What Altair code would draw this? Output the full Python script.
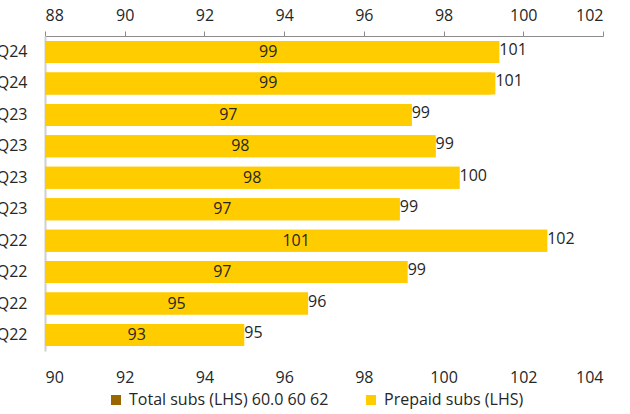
import altair as alt
import pandas as pd

quarters = ["2Q24", "1Q24", "4Q23", "3Q23", "2Q23", "1Q23", "4Q22", "3Q22", "2Q22", "1Q22"]
total_subs = [99.2, 99.2, 97.2, 97.8, 98.4, 96.9, 100.6, 96.9, 94.6, 92.6]
total_labels = ["99", "99", "97", "98", "98", "97", "101", "97", "95", "93"]
prepaid_subs = [101.4, 101.3, 99.2, 99.8, 100.4, 98.9, 102.6, 99.1, 96.6, 95.0]
prepaid_labels = ["101", "101", "99", "99", "100", "99", "102", "99", "96", "95"]
series_names = ["Total subs (LHS) 60.0 60 62", "Prepaid subs (LHS)"]
top_domain = [88, 102]
bottom_domain = [90, 104]
top_ticks = [88, 90, 92, 94, 96, 98, 100, 102]
bottom_ticks = [90, 92, 94, 96, 98, 100, 102, 104]

YELLOW = "#FFCC00"
BROWN = "#996600"
TEXT = "#262626"
FONT = "Open Sans"

df = pd.DataFrame({
    "quarter": quarters,
    "total": total_subs,
    "total_label": total_labels,
    "prepaid": prepaid_subs,
    "prepaid_label": prepaid_labels,
})

base = alt.Chart(df)

y_scale = alt.Scale(paddingInner=0.3, paddingOuter=0.16)
y_axis = alt.Axis(
    title=None, orient="left", ticks=False, tickSize=0, labelPadding=18, domainColor="#d0d0d0",
    domainWidth=2, labelFontSize=16, labelColor=TEXT, labelFont=FONT, labelAlign="right",
)
y_enc = alt.Y("quarter:N", sort=quarters, scale=y_scale, axis=y_axis)

prepaid_scale = alt.Scale(domain=bottom_domain, nice=False, zero=False)
total_scale = alt.Scale(domain=top_domain, nice=False, zero=False)

prepaid_bar = base.mark_bar(color=YELLOW).encode(
    x=alt.X("prepaid:Q", scale=prepaid_scale,
            axis=alt.Axis(orient="bottom", title=None, values=bottom_ticks, domain=False,
                          ticks=False, tickSize=0, labelPadding=18, grid=False,
                          labelFontSize=16, labelColor=TEXT, labelFont=FONT)),
    x2=alt.datum(bottom_domain[0]),
    y=y_enc,
)
prepaid_text = base.mark_text(align="left", baseline="middle", dy=-2, fontSize=16, color=TEXT, font=FONT).encode(
    x=alt.X("prepaid:Q", scale=prepaid_scale, axis=None),
    y=y_enc,
    text="prepaid_label:N",
)

total_bar = base.mark_bar(color=YELLOW).encode(
    x=alt.X("total:Q", scale=total_scale,
            axis=alt.Axis(orient="top", title=None, values=top_ticks, domainColor="#8c8c8c",
                          tickColor="#8c8c8c", tickSize=5, labelPadding=8, grid=False,
                          labelFontSize=16, labelColor=TEXT, labelFont=FONT)),
    x2=alt.datum(top_domain[0]),
    y=y_enc,
)
total_text = base.transform_calculate(mid="(88 + datum.total) / 2").mark_text(
    align="center", baseline="middle", fontSize=16, color=TEXT, font=FONT
).encode(
    x=alt.X("mid:Q", scale=total_scale, axis=None),
    y=y_enc,
    text="total_label:N",
)

legend_layer = alt.Chart(pd.DataFrame({"series": series_names})).transform_filter("false").mark_bar().encode(
    color=alt.Color(
        "series:N",
        scale=alt.Scale(domain=series_names, range=[BROWN, YELLOW]),
        legend=alt.Legend(
            title=None, orient="none", direction="horizontal", legendX=63, legendY=356,
            symbolType="square", symbolSize=100, labelFontSize=16, labelColor=TEXT,
            labelFont=FONT, columnPadding=34, labelOffset=5, symbolStrokeWidth=0,
            labelLimit=400,
        ),
    )
)

chart = alt.layer(
    prepaid_bar, prepaid_text, total_bar, total_text, legend_layer,
).resolve_scale(x="independent").properties(
    width=558,
    height=315,
    autosize=alt.AutoSizeParams(type="none"),
    padding={"left": 45, "top": 36, "right": 27, "bottom": 63},
).configure(font=FONT).configure_view(stroke=None)

chart.save("out.html", embed_options={"renderer": "svg", "actions": False})
